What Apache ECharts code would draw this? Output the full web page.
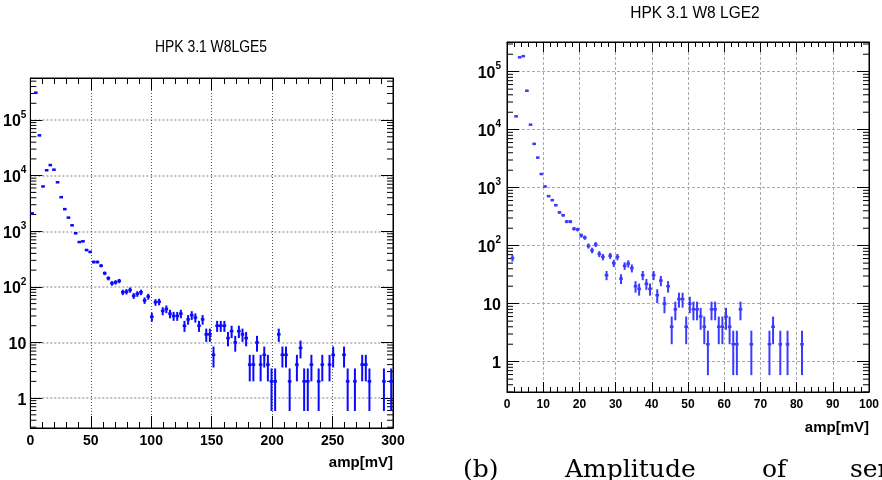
<!DOCTYPE html>
<html>
<head>
<meta charset="utf-8">
<script src="https://cdn.jsdelivr.net/npm/echarts@6/dist/echarts.min.js"></script>
<style>
html,body{margin:0;padding:0;background:#fff;}
#c{width:882px;height:480px;}
</style>
</head>
<body>
<div id="c"></div>
<script>
// ---- data ----
const leftTitle = 'HPK 3.1 W8LGE5';
const rightTitle = 'HPK 3.1 W8 LGE2';
const xName = 'amp[mV]';
const caption = ['(b)', 'Amplitude', 'of', 'ser'];

const leftBinWidth = 3;
const leftX = [1.5,4.5,7.5,10.5,13.5,16.5,19.5,22.5,25.5,28.5,31.5,34.5,37.5,40.5,43.5,46.5,49.5,52.5,55.5,58.5,61.5,64.5,67.5,70.5,73.5,76.5,79.5,82.5,85.5,88.5,91.5,94.5,97.5,100.5,103.5,106.5,109.5,112.5,115.5,118.5,121.5,124.5,127.5,130.5,133.5,136.5,139.5,142.5,145.5,148.5,151.5,154.5,157.5,160.5,163.5,166.5,169.5,172.5,175.5,178.5,181.5,184.5,187.5,190.5,193.5,196.5,199.5,202.5,205.5,208.5,211.5,214.5,220.5,223.5,226.5,229.5,232.5,238.5,241.5,247.5,250.5,259.5,262.5,268.5,274.5,277.5,280.5,292.5,298.5];
const leftY = [2100,310000,53000,6400,12500,15500,12800,7600,4100,2500,1760,1280,920,640,660,460,425,280,280,240,176,143,116,121,128,80,82,88,69,75,80,57,67,29,53,54,37,40,33,30,30,33,20,26,31,28,20,26,14,14,6,20,20,20,12,16,10,16,14,12,4,4,10,4,6,4,2,2,14,6,6,2,4,8,2,2,4,2,4,4,6,6,2,2,4,4,2,2,2];

const rightBinWidth = 1;
const rightX = [1.5,2.5,3.5,4.5,5.5,6.5,7.5,8.5,9.5,10.5,11.5,12.5,13.5,14.5,15.5,16.5,17.5,18.5,19.5,20.5,21.5,22.5,23.5,24.5,25.5,26.5,27.5,28.5,29.5,30.5,31.5,32.5,33.5,34.5,35.5,36.5,37.5,38.5,39.5,40.5,41.5,42.5,43.5,44.5,45.5,46.5,47.5,48.5,49.5,50.5,51.5,52.5,53.5,54.5,55.5,56.5,57.5,58.5,59.5,60.5,61.5,62.5,63.5,64.5,67.5,72.5,73.5,75.5,77.5,81.5];
const rightY = [61,17000,177000,185000,47000,12200,5700,3300,1720,1050,715,610,500,375,335,260,260,196,190,150,138,99,83,105,72,64,31,67,50,64,27,45,49,41,20,18,31,22,18,31,14,25,10,20,4,8,12,12,4,10,8,8,6,4,2,8,8,4,4,6,4,2,2,8,2,2,4,2,2,2];

const leftXRange = [0, 300], leftXStep = 50;
const rightXRange = [0, 100], rightXStep = 10;
const leftYRange = [0.29, 570000];
const rightYRange = [0.3, 325000];

// ---- styles ----
const NARROW = "'Liberation Sans Narrow','Arial Narrow','Liberation Sans',sans-serif";
const SANS = "'Liberation Sans',Arial,sans-serif";

function logMinor(lo, hi) {
  const out = [];
  for (let e = -2; e <= 7; e++) {
    for (let m = 2; m <= 9; m++) {
      const v = m * Math.pow(10, e);
      if (v > lo && v < hi) out.push([v]);
    }
  }
  return out;
}

function yFmt(v) {
  const e = Math.round(Math.log10(v));
  if (e === 0) return '{b|1}';
  if (e === 1) return '{b|10}';
  return '{b|10}{s|' + e + '}';
}
const yRich = {
  b: {fontFamily: NARROW, fontSize: 16, fontWeight: 'bold', color: '#000', padding: [4, 0, 0, 0]},
  s: {fontFamily: NARROW, fontSize: 10, fontWeight: 'bold', color: '#000', verticalAlign: 'top'}
};

function xAxes(grid, range, step, labelSize, namePad, nameSize) {
  const common = {
    gridIndex: grid, type: 'value', min: range[0], max: range[1], interval: step,
    axisLine: {show: true, onZero: false, lineStyle: {color: '#000', width: 1}},
    axisTick: {show: true, inside: true, length: grid === 0 ? 12 : 10, lineStyle: {color: '#000'}},
    minorTick: {show: true, splitNumber: 5, length: grid === 0 ? 6 : 5, lineStyle: {color: '#000'}},
    minorSplitLine: {show: false}
  };
  return [
    Object.assign({}, common, {
      position: 'bottom',
      axisLabel: {fontFamily: SANS, fontSize: labelSize, fontWeight: 'bold', color: '#000', margin: grid === 0 ? 6 : 7},
      splitLine: {show: true, showMinLine: false, showMaxLine: false,
        lineStyle: grid === 0 ? {type: [1, 2], color: '#555', width: 1} : {type: [3, 2], color: '#aaa', width: 1}},
      name: xName, nameLocation: 'end', nameGap: 0,
      nameTextStyle: {fontFamily: SANS, fontSize: nameSize, fontWeight: 'bold', color: '#000', align: 'right', verticalAlign: 'top', padding: [namePad, 0, 0, 0]}
    }),
    Object.assign({}, common, {
      position: 'top', axisLabel: {show: false}, splitLine: {show: false}
    })
  ];
}

function yAxes(grid, range) {
  const common = {
    gridIndex: grid, type: 'log', logBase: 10, min: range[0], max: range[1],
    axisLine: {show: true, onZero: false, lineStyle: {color: '#000', width: 1}},
    axisTick: {show: true, inside: true, length: 12, lineStyle: {color: '#000'}},
    minorTick: {show: false}
  };
  return [
    Object.assign({}, common, {
      position: 'left',
      axisLabel: {formatter: yFmt, rich: yRich, margin: grid === 0 ? 4 : 6, showMinLabel: false, showMaxLabel: false},
      splitLine: {show: true, showMinLine: false, showMaxLine: false,
        lineStyle: grid === 0 ? {type: [2, 2], color: '#aaa', width: 1.5} : {type: [3, 2], color: '#aaa', width: 1}}
    }),
    Object.assign({}, common, {
      position: 'right', axisLabel: {show: false}, splitLine: {show: false}
    })
  ];
}

function errSeries(xi, yi, xs, ys, bw, color, lw) {
  return {
    type: 'custom', xAxisIndex: xi, yAxisIndex: yi, clip: true, silent: true,
    data: xs.map((x, i) => [x, ys[i]]),
    renderItem: function (params, api) {
      const x = api.value(0), y = api.value(1);
      const e = Math.sqrt(y);
      const pL = api.coord([x - bw / 2, y]);
      const pR = api.coord([x + bw / 2, y]);
      const pT = api.coord([x, y + e]);
      const pB = api.coord([x, y - e]);
      return {type: 'group', children: [
        {type: 'line', shape: {x1: pL[0], y1: pL[1], x2: pR[0], y2: pR[1]}, style: {stroke: color, lineWidth: lw + 0.5}},
        {type: 'line', shape: {x1: pT[0], y1: pT[1], x2: pB[0], y2: pB[1]}, style: {stroke: color, lineWidth: lw}}
      ]};
    }
  };
}

function minorTickSeries(xi, yi, xr, yr, len) {
  return {
    type: 'custom', xAxisIndex: xi, yAxisIndex: yi, silent: true,
    data: logMinor(yr[0], yr[1]),
    encode: {y: 0},
    renderItem: function (params, api) {
      const v = api.value(0);
      const a = api.coord([xr[0], v]);
      const b = api.coord([xr[1], v]);
      return {type: 'group', children: [
        {type: 'line', shape: {x1: a[0], y1: a[1], x2: a[0] + len, y2: a[1]}, style: {stroke: '#000', lineWidth: 1}},
        {type: 'line', shape: {x1: b[0], y1: b[1], x2: b[0] - len, y2: b[1]}, style: {stroke: '#000', lineWidth: 1}}
      ]};
    }
  };
}

function titleText(text, x, y, sx) {
  return {type: 'text', x: x, y: y, scaleX: sx, silent: true,
    style: {text: text, align: 'center', verticalAlign: 'middle', font: '16px "Liberation Sans", Arial, sans-serif', fill: '#000'}};
}
function captionText(text, x) {
  return {type: 'text', x: x, y: 470, silent: true,
    style: {text: text, verticalAlign: 'middle', font: '25px "DejaVu Serif", serif', fill: '#000'}};
}

const chart = echarts.init(document.getElementById('c'), null, {renderer: 'canvas'});
chart.setOption({
  animation: false,
  backgroundColor: '#fff',
  grid: [
    {left: 30, top: 78, width: 363, height: 350, show: true, borderColor: '#000', borderWidth: 1, containLabel: false},
    {left: 507, top: 42, width: 365, height: 350, show: true, borderColor: '#000', borderWidth: 1, containLabel: false}
  ],
  xAxis: [].concat(
    xAxes(0, leftXRange, leftXStep, 14, 27, 15),
    xAxes(1, rightXRange, rightXStep, 12, 28, 15)
  ),
  yAxis: [].concat(
    yAxes(0, leftYRange),
    yAxes(1, rightYRange)
  ),
  series: [
    minorTickSeries(0, 0, leftXRange, leftYRange, 6),
    minorTickSeries(2, 2, rightXRange, rightYRange, 6),
    errSeries(0, 0, leftX, leftY, leftBinWidth, '#0a0aff', 2),
    errSeries(2, 2, rightX, rightY, rightBinWidth, '#3b3bff', 2)
  ],
  graphic: [
    titleText(leftTitle, 211, 48, 0.87),
    titleText(rightTitle, 695, 14, 0.97),
    captionText(caption[0], 463),
    captionText(caption[1], 565),
    captionText(caption[2], 762),
    captionText(caption[3], 850)
  ]
});
</script>
</body>
</html>
